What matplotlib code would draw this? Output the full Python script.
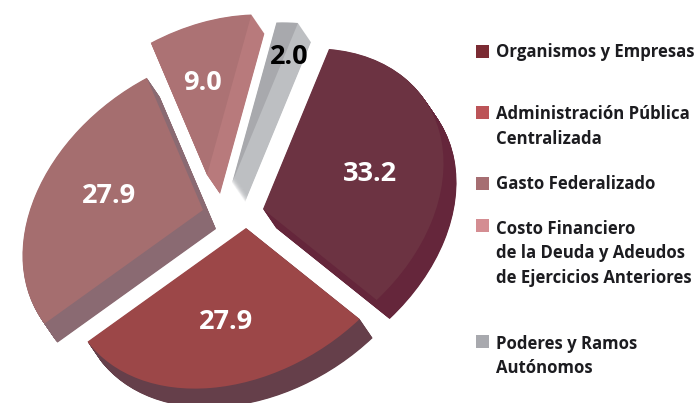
import matplotlib
matplotlib.use('Agg')
import matplotlib.pyplot as plt
from matplotlib.patches import Rectangle
from matplotlib.transforms import Affine2D

# data
categories = ['Organismos y Empresas', 'Administración Pública\nCentralizada', 'Gasto Federalizado',
              'Costo Financiero\nde la Deuda y Adeudos\nde Ejercicios Anteriores', 'Poderes y Ramos\nAutónomos']
values = [33.2, 27.9, 27.9, 9.0, 2.0]

# colours
top_colors = ['#6c3342', '#9c4748', '#a56e6f', '#ac7274', '#a8a9ad']
side_colors = ['#65263b', '#653f4a', '#8a6a72', '#b87a7c', '#bdbfc2']
legend_colors = ['#7b2b33', '#bc5458', '#a66e72', '#d48d92', '#a8a9ae']
label_colors = ['white', 'white', 'white', 'white', 'black']

# where each slice tip ends up after exploding, pixels
tips = [(263, 209), (246, 228), (203, 210), (207, 175), (232, 183)]
label_pos = [(370, 174), (226, 322), (109, 196), (202, 83), (289, 57)]
legend_y = [52, 126.5, 184, 253.5, 356]
square_y = [51, 112.5, 183.5, 225.5, 341.5]

fig = plt.figure(figsize=(6.98, 4.03), dpi=100)
ax = fig.add_axes([0, 0, 1, 1])


def draw_pie(colors, dx, dy):
    wedges, _ = ax.pie(values, startangle=90, counterclock=False, colors=colors,
                       wedgeprops={'linewidth': 0, 'edgecolor': 'none'})
    for w, (x, y) in zip(wedges, tips):
        # the tilt of the disc, unit circle to pixels
        w.set_transform(Affine2D.from_values(168, 14, 66, -160, x + dx, y + dy) + ax.transData)


# side of the disc, stacked copies pushed down and right
steps = 40
for i in range(steps, 0, -1):
    draw_pie(side_colors, 13 * i / steps, 19 * i / steps)
draw_pie(top_colors, 0, 0)

for v, (x, y), c in zip(values, label_pos, label_colors):
    ax.text(x, y, f'{v:.1f}', color=c, fontsize=19.5, fontfamily='Open Sans', fontweight='bold',
            ha='center', va='center')

for name, y, sy, c in zip(categories, legend_y, square_y, legend_colors):
    ax.add_patch(Rectangle((476, sy - 6.5), 13, 13, facecolor=c, edgecolor='none'))
    ax.text(496, y, name, color='#1c1c20', fontsize=12.05, fontfamily='Open Sans', fontweight='bold',
            ha='left', va='center', linespacing=1.48)

ax.set_aspect('auto')
ax.set_xlim(0, 698)
ax.set_ylim(403, 0)
ax.axis('off')

fig.savefig('out.png', dpi=100)
